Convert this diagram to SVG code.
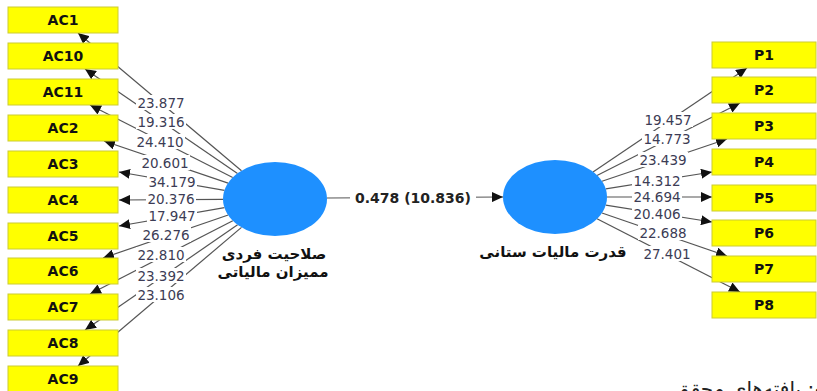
<svg xmlns="http://www.w3.org/2000/svg" width="817" height="391" viewBox="0 0 817 391">
<style>
.box{fill:#ffff00;stroke:#cccc33;stroke-width:1}
.bt{font-family:"DejaVu Sans",sans-serif;font-weight:bold;font-size:14px;fill:#111;text-anchor:middle}
.ln{stroke:#555;stroke-width:1.2;fill:none;marker-end:url(#ah)}
.lb{font-family:"DejaVu Sans",sans-serif;font-size:13.5px;fill:#3c3c55;text-anchor:middle}
.lbg{fill:#fff}
.cir{fill:#1e90ff}
.ct{font-family:"DejaVu Sans",sans-serif;font-weight:bold;font-size:15px;fill:#111;text-anchor:middle}
</style>
<defs>
<marker id="ah" markerUnits="userSpaceOnUse" markerWidth="12" markerHeight="10" refX="11" refY="5" orient="auto">
<path d="M0,0 L11,5 L0,10 Z" fill="#111"/>
</marker>
</defs>
<g id="connectors">
<line class="ln" x1="241.5" y1="170.7" x2="78" y2="33"/>
<line class="ln" x1="237.5" y1="173.4" x2="85" y2="69"/>
<line class="ln" x1="232.7" y1="177.5" x2="90" y2="105"/>
<line class="ln" x1="228.1" y1="183.1" x2="104" y2="141"/>
<line class="ln" x1="224.5" y1="190.3" x2="119" y2="172"/>
<line class="ln" x1="223" y1="199.3" x2="119" y2="200"/>
<line class="ln" x1="224.5" y1="207.7" x2="119" y2="226"/>
<line class="ln" x1="228.2" y1="215" x2="103" y2="258"/>
<line class="ln" x1="232.8" y1="220.7" x2="90" y2="294"/>
<line class="ln" x1="237.6" y1="224.8" x2="85" y2="330"/>
<line class="ln" x1="241.5" y1="227.4" x2="78" y2="366"/>
<line class="ln" x1="593" y1="172" x2="747" y2="68"/>
<line class="ln" x1="597" y1="175.5" x2="740" y2="103"/>
<line class="ln" x1="602" y1="181.2" x2="727" y2="139"/>
<line class="ln" x1="605.7" y1="188.9" x2="712" y2="172"/>
<line class="ln" x1="607" y1="197" x2="712" y2="197"/>
<line class="ln" x1="605.7" y1="205.1" x2="712" y2="222"/>
<line class="ln" x1="602" y1="213" x2="727" y2="256"/>
<line class="ln" x1="597" y1="218.7" x2="740" y2="292"/>
<line class="ln" x1="327" y1="198" x2="503" y2="197"/>
<g id="labels">
<rect class="lbg" x="136" y="95" width="50" height="15"/><text class="lb" x="161" y="108">23.877</text>
<rect class="lbg" x="136" y="114" width="50" height="15"/><text class="lb" x="161" y="127">19.316</text>
<rect class="lbg" x="135" y="134" width="50" height="15"/><text class="lb" x="160" y="147">24.410</text>
<rect class="lbg" x="140" y="155" width="50" height="15"/><text class="lb" x="165" y="168">20.601</text>
<rect class="lbg" x="147" y="174" width="50" height="15"/><text class="lb" x="172" y="187">34.179</text>
<rect class="lbg" x="146" y="191" width="50" height="15"/><text class="lb" x="171" y="204">20.376</text>
<rect class="lbg" x="147" y="208" width="50" height="15"/><text class="lb" x="172" y="221">17.947</text>
<rect class="lbg" x="141" y="227" width="50" height="15"/><text class="lb" x="166" y="240">26.276</text>
<rect class="lbg" x="136" y="247" width="50" height="15"/><text class="lb" x="161" y="260">22.810</text>
<rect class="lbg" x="136" y="268" width="50" height="15"/><text class="lb" x="161" y="281">23.392</text>
<rect class="lbg" x="136" y="287" width="50" height="15"/><text class="lb" x="161" y="300">23.106</text>
<rect class="lbg" x="643" y="112" width="50" height="15"/><text class="lb" x="668" y="125">19.457</text>
<rect class="lbg" x="642" y="131" width="50" height="15"/><text class="lb" x="667" y="144">14.773</text>
<rect class="lbg" x="638" y="152" width="50" height="15"/><text class="lb" x="663" y="165">23.439</text>
<rect class="lbg" x="632" y="173" width="50" height="15"/><text class="lb" x="657" y="186">14.312</text>
<rect class="lbg" x="632" y="189" width="50" height="15"/><text class="lb" x="657" y="202">24.694</text>
<rect class="lbg" x="632" y="206" width="50" height="15"/><text class="lb" x="657" y="219">20.406</text>
<rect class="lbg" x="638" y="225" width="50" height="15"/><text class="lb" x="663" y="238">22.688</text>
<rect class="lbg" x="642" y="246" width="50" height="15"/><text class="lb" x="667" y="259">27.401</text>
<rect class="lbg" x="350" y="189" width="126" height="17"/>
<text x="413" y="203" style="font-family:'DejaVu Sans',sans-serif;font-weight:bold;font-size:14px;fill:#222;text-anchor:middle">0.478 (10.836)</text>
</g>
</g>
<g id="AC1"><rect class="box" x="8" y="7" width="110" height="26"/><text class="bt" x="63" y="25">AC1</text></g>
<g id="AC10"><rect class="box" x="8" y="43" width="110" height="26"/><text class="bt" x="63" y="61">AC10</text></g>
<g id="AC11"><rect class="box" x="8" y="79" width="110" height="26"/><text class="bt" x="63" y="97">AC11</text></g>
<g id="AC2"><rect class="box" x="8" y="115" width="110" height="26"/><text class="bt" x="63" y="133">AC2</text></g>
<g id="AC3"><rect class="box" x="8" y="151" width="110" height="26"/><text class="bt" x="63" y="169">AC3</text></g>
<g id="AC4"><rect class="box" x="8" y="187" width="110" height="26"/><text class="bt" x="63" y="205">AC4</text></g>
<g id="AC5"><rect class="box" x="8" y="223" width="110" height="26"/><text class="bt" x="63" y="241">AC5</text></g>
<g id="AC6"><rect class="box" x="8" y="258" width="110" height="26"/><text class="bt" x="63" y="276">AC6</text></g>
<g id="AC7"><rect class="box" x="8" y="294" width="110" height="26"/><text class="bt" x="63" y="312">AC7</text></g>
<g id="AC8"><rect class="box" x="8" y="330" width="110" height="26"/><text class="bt" x="63" y="348">AC8</text></g>
<g id="AC9"><rect class="box" x="8" y="366" width="110" height="26"/><text class="bt" x="63" y="384">AC9</text></g>
<g id="P1"><rect class="box" x="712" y="42" width="104" height="26"/><text class="bt" x="764" y="60">P1</text></g>
<g id="P2"><rect class="box" x="712" y="77" width="104" height="26"/><text class="bt" x="764" y="95">P2</text></g>
<g id="P3"><rect class="box" x="712" y="113" width="104" height="26"/><text class="bt" x="764" y="131">P3</text></g>
<g id="P4"><rect class="box" x="712" y="149" width="104" height="26"/><text class="bt" x="764" y="167">P4</text></g>
<g id="P5"><rect class="box" x="712" y="185" width="104" height="26"/><text class="bt" x="764" y="203">P5</text></g>
<g id="P6"><rect class="box" x="712" y="220" width="104" height="26"/><text class="bt" x="764" y="238">P6</text></g>
<g id="P7"><rect class="box" x="712" y="256" width="104" height="26"/><text class="bt" x="764" y="274">P7</text></g>
<g id="P8"><rect class="box" x="712" y="292" width="104" height="26"/><text class="bt" x="764" y="310">P8</text></g>
<g id="competence">
<ellipse class="cir" cx="275" cy="199" rx="52" ry="37"/>
<text class="ct" x="274" y="259">صلاحیت فردی</text>
<text class="ct" x="273" y="277">ممیزان مالیاتی</text>
</g>
<g id="taxpower">
<ellipse class="cir" cx="555" cy="197" rx="52" ry="37"/>
<text class="ct" x="553" y="257">قدرت مالیات ستانی</text>
</g>
<text x="674" y="396" style="font-family:'DejaVu Sans',sans-serif;font-size:20px;fill:#222;text-anchor:start">منبع: یافته‌های محقق</text>
</svg>
